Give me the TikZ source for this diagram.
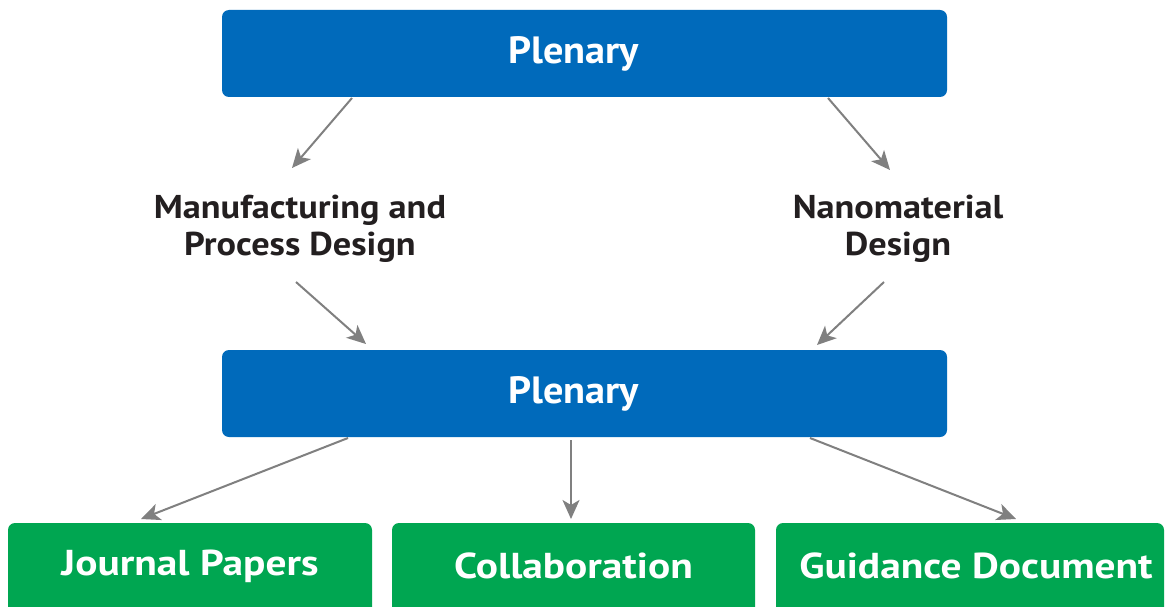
\documentclass[tikz,border=0pt]{standalone}
\usepackage{fontspec}
\setmainfont{PT Sans}
\newfontfamily\plenfont[FakeStretch=1.06]{PT Sans Bold}
\newfontfamily\lblfont[FakeStretch=1.1]{PT Sans Bold}
\newfontfamily\botfont[FakeStretch=1.15]{PT Sans Bold}
\usetikzlibrary{arrows.meta}
\definecolor{boxblue}{RGB}{0,106,187}
\definecolor{boxgreen}{RGB}{0,166,81}
\definecolor{arrowgray}{RGB}{128,128,128}
\definecolor{labeltext}{RGB}{35,31,32}
\begin{document}
\begin{tikzpicture}[x=1pt,y=-1pt,
  bluebox/.style={fill=boxblue, rounded corners=7pt, minimum width=725pt, minimum height=87pt, inner sep=0pt,
    text=white, font=\fontsize{38}{42}\plenfont},
  greenbox/.style={inner sep=0pt, text=white, font=\fontsize{36}{40}\botfont},
  lbl/.style={align=center, text=labeltext, font=\fontsize{33}{37}\lblfont, inner sep=0pt},
  conn/.style={draw=arrowgray, line width=2pt, -{Stealth[length=19pt,width=17pt,inset=5pt]}}
]
\useasboundingbox (0,0) rectangle (1170,607);
\fill[white] (0,0) rectangle (1170,607);
\begin{scope}
\clip (0,0) rectangle (1170,607);
% blue boxes
\node[bluebox] (top) at (584.5,53.5) {\hspace*{-22pt}Plenary};
\node[bluebox] (mid) at (584.5,393.5) {\hspace*{-22pt}Plenary};
% green boxes
\path[fill=boxgreen, rounded corners=7pt] (8,523) rectangle (372,640);
\node[greenbox] (jp) at (190,566) {Journal Papers};
\path[fill=boxgreen, rounded corners=7pt] (392,523) rectangle (755,640);
\node[greenbox] (co) at (573.5,566) {Collaboration};
\path[fill=boxgreen, rounded corners=7pt] (776,523) rectangle (1164,640);
\node[greenbox] (gd) at (976,566) {Guidance Document};
\end{scope}
% labels
\node[lbl] (mfg) at (300,229) {Manufacturing and\\Process Design};
\node[lbl] (nano) at (898,229) {Nanomaterial\\Design};
% connector end points
\coordinate (t1) at (352,98);
\coordinate (m1) at (292,168);
\coordinate (t2) at (828,98);
\coordinate (n1) at (890,170);
\coordinate (m2) at (296,282);
\coordinate (b1) at (366,344);
\coordinate (n2) at (884,282);
\coordinate (b2) at (817,345);
\coordinate (s1) at (348,438);
\coordinate (j1) at (141,519);
\coordinate (s2) at (571,440);
\coordinate (c1) at (571,519);
\coordinate (s3) at (810,438);
\coordinate (g1) at (1016,519);
\draw[conn] (t1) -- (m1);
\draw[conn] (t2) -- (n1);
\draw[conn] (m2) -- (b1);
\draw[conn] (n2) -- (b2);
\draw[conn] (s1) -- (j1);
\draw[conn] (s2) -- (c1);
\draw[conn] (s3) -- (g1);
\end{tikzpicture}
\end{document}
